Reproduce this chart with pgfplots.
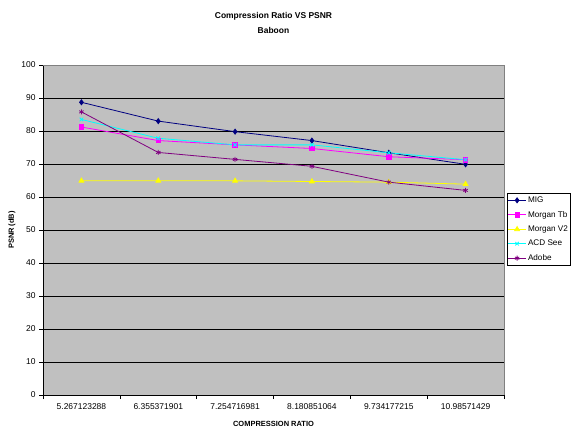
\documentclass[border=0pt]{standalone}
\usepackage{fontspec}
\setmainfont{Liberation Sans}
\usepackage{pgfplots}
\pgfplotsset{compat=1.18}
\definecolor{plotbg}{RGB}{192,192,192}
\definecolor{mig}{RGB}{0,0,128}
\definecolor{mtb}{RGB}{255,0,255}
\definecolor{mv2}{RGB}{255,255,0}
\definecolor{acd}{RGB}{0,255,255}
\definecolor{adobe}{RGB}{128,0,128}
\begin{document}
\begin{tikzpicture}[x=1bp,y=1bp]
\path[use as bounding box] (0,0) rectangle (573,432);
\begin{axis}[
  at={(43bp,37bp)}, anchor=south west,
  scale only axis, width=461bp, height=330bp,
  xmin=-0.5, xmax=5.5, ymin=0, ymax=100,
  axis background/.style={fill=plotbg},
  axis x line*=bottom, axis y line*=left,
  axis line style={black, line width=0.8pt},
  xtick={0,...,5},
  xticklabels={5.267123288,6.355371901,7.254716981,8.180851064,9.734177215,10.98571429},
  major x tick style={draw=none},
  minor xtick={-0.5,0.5,...,5.5},
  minor x tick style={black, line width=0.6pt},
  minor tick length=4bp,
  ytick={0,10,...,100},
  ymajorgrids, grid style={black, line width=0.8pt},
  major y tick style={black, line width=0.6pt},
  tick align=outside, major tick length=4bp,
  tick label style={font=\fontsize{8.5}{10}\selectfont},
  /pgf/number format/assume math mode=true,
  xticklabel style={yshift=-1bp},
  xlabel={\textbf{COMPRESSION RATIO}},
  xlabel style={font=\fontsize{7.5}{9}\selectfont, yshift=-5bp},
  ylabel={\textbf{PSNR (dB)}},
  ylabel style={font=\fontsize{7.5}{9}\selectfont, yshift=-1bp},
  title={\textbf{Compression Ratio VS PSNR}\\\textbf{Baboon}},
  title style={font=\fontsize{8.5}{15}\selectfont, align=center, yshift=22bp},
  legend style={at={(1.0065,0.612)}, anchor=north west, draw=black, fill=white,
    font=\fontsize{8.2}{10}\selectfont, inner xsep=0.5bp, inner ysep=1.5bp, row sep=3.2bp,
    legend cell align=left, nodes={inner xsep=1.5bp}},
  legend image code/.code={%
    \draw[mark repeat=2,mark phase=2] plot coordinates {(0bp,0bp)(9bp,0bp)(18bp,0bp)};},
  legend image post style={line width=0.8pt},
  clip=false,
]
\addplot[mig, line width=0.8pt, mark=diamond*, mark size=2.5bp] coordinates
  {(0,88.7)(1,83.0)(2,79.8)(3,77.1)(4,73.4)(5,69.9)};
\addlegendentry{MIG}
\addplot[mtb, line width=0.8pt, mark=square*, mark size=2.2bp] coordinates
  {(0,81.2)(1,77.1)(2,75.8)(3,74.7)(4,72.2)(5,71.3)};
\addlegendentry{Morgan Tb}
\addplot[mv2, line width=0.8pt, mark=triangle*, mark size=2.8bp] coordinates
  {(0,64.9)(1,64.9)(2,64.9)(3,64.7)(4,64.5)(5,63.9)};
\addlegendentry{Morgan V2}
\addplot[acd, line width=0.8pt, mark=x, mark size=2.5bp] coordinates
  {(0,83.5)(1,77.8)(2,75.8)(3,75.8)(4,73.4)(5,71.3)};
\addlegendentry{ACD See}
\addplot[adobe, line width=0.8pt, mark=asterisk, mark size=2.5bp] coordinates
  {(0,85.8)(1,73.5)(2,71.4)(3,69.3)(4,64.5)(5,62.0)};
\addlegendentry{Adobe}
\draw[gray, line width=0.8pt] (rel axis cs:0,1) -- (rel axis cs:1,1) -- (rel axis cs:1,0);
\end{axis}
\end{tikzpicture}
\end{document}
